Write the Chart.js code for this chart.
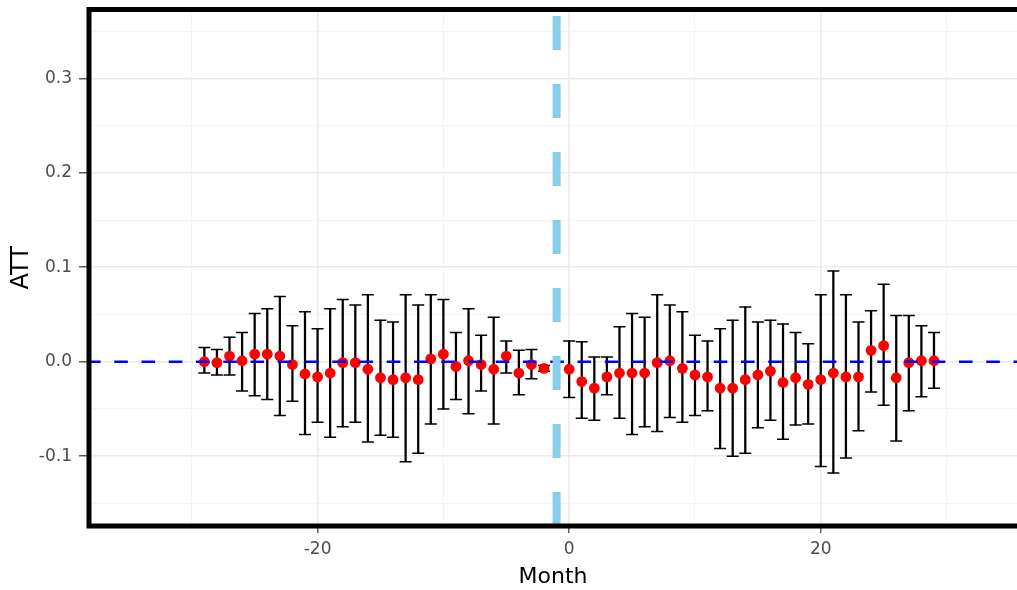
<!DOCTYPE html>
<html>
	<head>
		<title>ATT by Month</title>
		<meta http-equiv="Content-Type" content="text/html; charset=UTF-8" />
		<script src="https://cdn.jsdelivr.net/npm/chart.js@4/dist/chart.umd.min.js"></script>
		<style>
			html, body { margin: 0; padding: 0; background: #ffffff; overflow: hidden; }
			#wrap { width: 1017px; height: 590px; }
			canvas { display: block; }
		</style>
		<script>
			// event-study estimates, month -1 is the reference period
			var months = [-29, -28, -27, -26, -25, -24, -23, -22, -21, -20, -19, -18, -17, -16, -15,
				-14, -13, -12, -11, -10, -9, -8, -7, -6, -5, -4, -3, -2,
				0, 1, 2, 3, 4, 5, 6, 7, 8, 9, 10, 11, 12, 13, 14, 15, 16, 17, 18, 19, 20,
				21, 22, 23, 24, 25, 26, 27, 28, 29];
			var att = [0.000, -0.001, 0.006, 0.001, 0.008, 0.008, 0.006, -0.003, -0.013, -0.016, -0.012, -0.001, -0.001, -0.008, -0.017,
				-0.019, -0.017, -0.019, 0.003, 0.008, -0.005, 0.001, -0.003, -0.008, 0.006, -0.012, -0.003, -0.007,
				-0.008, -0.021, -0.028, -0.016, -0.012, -0.012, -0.012, -0.001, 0.001, -0.007, -0.014, -0.016, -0.028, -0.028, -0.019, -0.014, -0.010, -0.022, -0.017, -0.024, -0.019,
				-0.012, -0.016, -0.016, 0.012, 0.017, -0.017, -0.001, 0.001, 0.001];
			var lower = [-0.012, -0.014, -0.014, -0.031, -0.036, -0.040, -0.057, -0.042, -0.077, -0.064, -0.080, -0.069, -0.064, -0.085, -0.078,
				-0.080, -0.106, -0.097, -0.066, -0.050, -0.040, -0.055, -0.031, -0.066, -0.012, -0.035, -0.018, -0.010,
				-0.038, -0.060, -0.062, -0.035, -0.060, -0.077, -0.069, -0.074, -0.059, -0.064, -0.057, -0.052, -0.092, -0.100, -0.097, -0.070, -0.062, -0.082, -0.067, -0.066, -0.111,
				-0.118, -0.102, -0.073, -0.032, -0.046, -0.084, -0.052, -0.037, -0.028];
			var upper = [0.015, 0.013, 0.026, 0.031, 0.051, 0.056, 0.069, 0.038, 0.053, 0.035, 0.056, 0.066, 0.060, 0.071, 0.044,
				0.042, 0.071, 0.060, 0.071, 0.066, 0.031, 0.056, 0.028, 0.047, 0.022, 0.012, 0.013, -0.004,
				0.022, 0.021, 0.005, 0.005, 0.037, 0.051, 0.047, 0.071, 0.060, 0.053, 0.028, 0.022, 0.035, 0.044, 0.058, 0.042, 0.044, 0.040, 0.031, 0.019, 0.071,
				0.096, 0.071, 0.042, 0.054, 0.082, 0.049, 0.049, 0.038, 0.031];

			var xTicks = [-30, -20, -10, 0, 10, 20, 30];
			var xLabels = ['', '-20', '', '0', '', '20', ''];
			var yTicks = [-0.15, -0.1, -0.05, 0, 0.05, 0.1, 0.15, 0.2, 0.25, 0.3, 0.35];
			var yLabels = ['', '-0.1', '', '0.0', '', '0.1', '', '0.2', '', '0.3', ''];
			var xRange = [-38.17, 35.6];
			var yRange = [-0.174, 0.373];
			var treatMonth = -1;

			// black panel frame (right side runs off the picture)
			var panelBorder = {
				id: 'panelBorder',
				afterDatasetsDraw: function(chart) {
					var a = chart.chartArea;
					var ctx = chart.ctx;
					ctx.save();
					ctx.strokeStyle = '#000000';
					ctx.lineWidth = 5;
					ctx.beginPath();
					ctx.moveTo(chart.width + 5, a.top);
					ctx.lineTo(a.left, a.top);
					ctx.lineTo(a.left, a.bottom);
					ctx.lineTo(chart.width + 5, a.bottom);
					ctx.stroke();
					ctx.restore();
				}
			};

			function major(c, step) {
				if (!c || !c.tick) return true;
				var r = c.tick.value / step;
				return Math.abs(r - Math.round(r)) < 1e-6;
			}

			window.onload = function() {
				Chart.defaults.font.family = 'DejaVu Sans';

				var ctx = document.getElementById('myChart').getContext('2d');

				var chart = new Chart(ctx, {
					type: 'scatter',
					data: {
						datasets: [
							{
								// vertical dashed line at the reference month
								type: 'line',
								data: [{x: treatMonth, y: yRange[0]}, {x: treatMonth, y: yRange[1]}],
								borderColor: '#87CEEB',
								borderWidth: 8,
								borderDash: [34, 34],
								pointRadius: 0,
								showLine: true,
								order: 1
							},
							{
								// zero line
								type: 'line',
								data: [{x: xRange[0], y: 0}, {x: xRange[1], y: 0}],
								borderColor: '#0000FF',
								borderWidth: 2.6,
								borderDash: [13.6, 13.65],
								borderDashOffset: 2,
								pointRadius: 0,
								showLine: true,
								order: 2
							},
							{
								type: 'scatter',
								data: months.map(function(m, i) { return {x: m, y: att[i]}; }),
								backgroundColor: '#FF0000',
								borderWidth: 0,
								pointRadius: 5.4,
								order: 3
							},
							{
								// error bar caps
								type: 'scatter',
								data: months.map(function(m, i) { return {x: m, y: upper[i]}; })
									.concat(months.map(function(m, i) { return {x: m, y: lower[i]}; })),
								pointStyle: 'line',
								pointRadius: 6,
								borderColor: '#000000',
								borderWidth: 1.5,
								order: 4
							},
							{
								// error bar stems
								type: 'bar',
								data: months.map(function(m, i) { return {x: m, y: [lower[i], upper[i]]}; }),
								backgroundColor: '#000000',
								barThickness: 1.6,
								grouped: false,
								order: 5
							}
						]
					},
					options: {
						responsive: false,
						animation: false,
						events: [],
						layout: {
							autoPadding: false,
							padding: { top: 9.5, left: 0, right: 0, bottom: 0 }
						},
						plugins: {
							legend: { display: false },
							tooltip: { enabled: false }
						},
						scales: {
							x: {
								type: 'linear',
								min: xRange[0],
								max: xRange[1],
								offset: false,
								afterBuildTicks: function(s) {
									s.ticks = xTicks.map(function(v) { return {value: v}; });
								},
								afterFit: function(s) {
									s.height = 64;
									s.paddingLeft = 0; s.paddingRight = 0;
								},
								border: { display: false },
								grid: {
									offset: false,
									color: function(c) { return major(c, 20) ? '#EBEBEB' : '#F3F3F3'; },
									lineWidth: function(c) { return major(c, 20) ? 1.6 : 0.8; },
									tickColor: function(c) { return major(c, 20) ? '#333333' : 'rgba(0,0,0,0)'; },
									tickWidth: 1.2,
									tickLength: 7
								},
								ticks: {
									autoSkip: false,
									maxRotation: 0,
									padding: 6,
									color: '#4D4D4D',
									font: { size: 17 },
									callback: function(v, i) { return xLabels[i]; }
								},
								title: {
									display: true,
									text: 'Month',
									color: '#000000',
									font: { size: 22 },
									padding: { top: 0, bottom: 0 }
								}
							},
							y: {
								type: 'linear',
								min: yRange[0],
								max: yRange[1],
								afterBuildTicks: function(s) {
									s.ticks = yTicks.map(function(v) { return {value: v}; });
								},
								afterFit: function(s) {
									s.width = 89;
									s.paddingTop = 0; s.paddingBottom = 0;
								},
								border: { display: false },
								grid: {
									color: function(c) { return major(c, 0.1) ? '#EBEBEB' : '#F3F3F3'; },
									lineWidth: function(c) { return major(c, 0.1) ? 1.6 : 0.8; },
									tickColor: function(c) { return major(c, 0.1) ? '#333333' : 'rgba(0,0,0,0)'; },
									tickWidth: 1.2,
									tickLength: 10
								},
								ticks: {
									autoSkip: false,
									padding: 7,
									color: '#4D4D4D',
									font: { size: 17 },
									callback: function(v, i) { return yLabels[i]; }
								},
								title: {
									display: true,
									text: 'ATT',
									color: '#000000',
									font: { size: 24 },
									padding: { top: 7, bottom: 0 }
								}
							}
						}
					},
					plugins: [panelBorder]
				});
			};
		</script>
	</head>
	<body>
		<div id="wrap">
			<canvas id="myChart" width="1017" height="590"></canvas>
		</div>
	</body>
</html>
